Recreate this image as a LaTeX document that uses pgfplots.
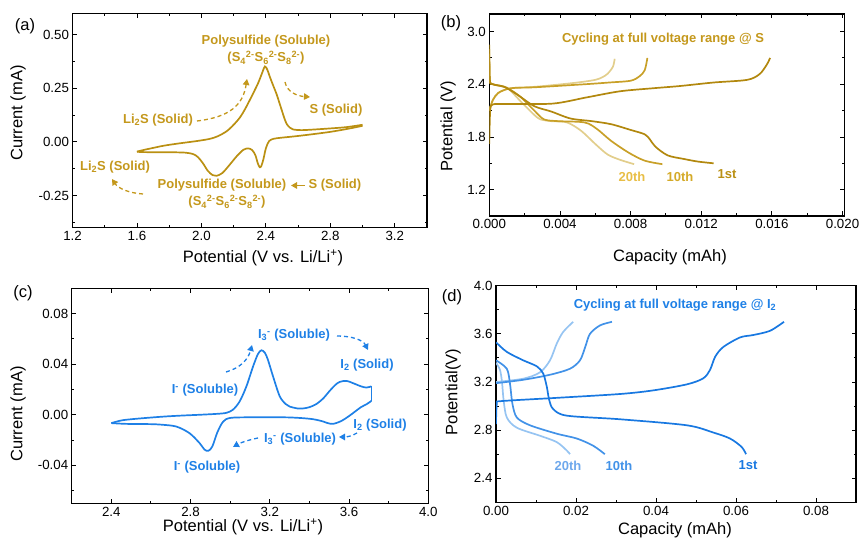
\documentclass[border=0pt]{standalone}
\usepackage{fontspec}
\setmainfont{Liberation Sans}
\usepackage{pgfplots}
\pgfplotsset{compat=1.18}
\usetikzlibrary{arrows.meta}
\definecolor{gold}{RGB}{186,144,18}
\definecolor{goldtxt}{RGB}{196,152,28}
\definecolor{goldA}{RGB}{178,136,14}
\definecolor{goldB}{RGB}{200,160,40}
\definecolor{goldC}{RGB}{226,206,140}
\definecolor{goldL1}{RGB}{186,144,20}
\definecolor{goldL10}{RGB}{212,170,40}
\definecolor{goldL20}{RGB}{232,190,70}
\definecolor{blu}{RGB}{30,128,230}
\definecolor{bluA}{RGB}{24,120,225}
\definecolor{bluB}{RGB}{66,146,232}
\definecolor{bluC}{RGB}{150,196,242}
\definecolor{bluL20}{RGB}{110,168,236}
\newcommand{\tf}{\fontsize{13.3}{15}\selectfont}
\newcommand{\lf}{\fontsize{16.5}{18}\selectfont}
\newcommand{\af}{\fontsize{13}{15}\selectfont\bfseries}
\pgfplotsset{
  panel/.style={
    scale only axis, anchor=south west,
    axis line style={line width=1.1pt},
    tick style={black,line width=0.9pt},
    major tick length=4.5pt, minor tick length=2.5pt,
    tick align=inside,
    ticklabel style={font=\tf},
    /pgf/number format/assume math mode=true,
    /pgf/number format/fixed, /pgf/number format/fixed zerofill,
    scaled ticks=false,
  },
  curve/.style={line width=1.7pt, smooth, tension=0.5, no markers},
}
\tikzset{darr/.style={line width=1.3pt, dash pattern=on 4pt off 3pt, -{Triangle[length=6pt,width=6.5pt]}}}
\begin{document}
\begin{tikzpicture}
% ---------------- (a)
\begin{axis}[panel, at={(72.5pt,318.3pt)}, width=354.5pt, height=214.4pt,
  xmin=1.2, xmax=3.4, ymin=-0.4, ymax=0.6,
  xtick={1.2,1.6,2.0,2.4,2.8,3.2}, minor xtick={1.4,1.8,2.2,2.6,3.0,3.4},
  ytick={-0.25,0,0.25,0.5}, minor ytick={-0.375,-0.125,0.125,0.375},
  xticklabel style={/pgf/number format/precision=1},
  yticklabel style={/pgf/number format/precision=2}]
\addplot[curve, gold] coordinates {(1.600,-0.045) (1.65,-0.036) (1.70,-0.028) (1.763,-0.018) (1.85,-0.008) (1.97,0.004) (2.05,0.014) (2.10,0.026) (2.157,0.050) (2.20,0.080) (2.24,0.115) (2.27,0.152) (2.30,0.195) (2.33,0.240) (2.353,0.276) (2.375,0.318) (2.394,0.352) (2.41,0.335) (2.425,0.303) (2.446,0.262) (2.467,0.222) (2.485,0.180) (2.50,0.145) (2.515,0.110) (2.53,0.083) (2.55,0.066) (2.57,0.058) (2.62,0.055) (2.70,0.058) (2.80,0.063) (2.90,0.069) (3.00,0.080)};
\addplot[curve, gold] coordinates {(3.00,0.075) (2.90,0.060) (2.80,0.047) (2.70,0.037) (2.59,0.027) (2.50,0.020) (2.45,0.015) (2.42,0.004) (2.40,-0.030) (2.385,-0.080) (2.372,-0.112) (2.362,-0.118) (2.35,-0.100) (2.335,-0.062) (2.315,-0.038) (2.29,-0.030) (2.26,-0.037) (2.22,-0.066) (2.177,-0.105) (2.13,-0.145) (2.094,-0.158) (2.07,-0.155) (2.04,-0.135) (2.01,-0.100) (1.98,-0.072) (1.95,-0.057) (1.90,-0.050) (1.80,-0.048) (1.70,-0.048) (1.62,-0.047) (1.60,-0.045)};
\end{axis}
% ---------------- (b)
\begin{axis}[panel, at={(489.3pt,330pt)}, width=355pt, height=202pt,
  xmin=0, xmax=0.0201, ymin=0.9, ymax=3.2,
  xtick={0,0.004,0.008,0.012,0.016,0.020}, minor xtick={0.002,0.006,0.010,0.014,0.018},
  ytick={1.2,1.8,2.4,3.0}, minor ytick={0.9,1.5,2.1,2.7},
  xticklabel style={/pgf/number format/precision=3},
  yticklabel style={/pgf/number format/precision=1}]
% 20th
\addplot[curve, goldC] coordinates {(0,2.10) (0.0002,2.22) (0.0005,2.30) (0.001,2.345) (0.0015,2.36) (0.0025,2.37) (0.0036,2.39) (0.005,2.42) (0.006,2.45) (0.0064,2.48) (0.0067,2.52) (0.0070,2.60) (0.0071,2.69)};
\addplot[curve, goldC] coordinates {(0,2.75) (0.00003,2.45) (0.0002,2.40) (0.001,2.36) (0.0018,2.20) (0.00255,2.05) (0.0029,2.0) (0.0035,1.98) (0.0044,1.965) (0.0052,1.87) (0.006,1.72) (0.0067,1.60) (0.0074,1.54) (0.0082,1.49)};
% 10th
\addplot[curve, goldB] coordinates {(0,2.10) (0.0002,2.22) (0.0005,2.30) (0.001,2.345) (0.0015,2.36) (0.0025,2.365) (0.0054,2.40) (0.0068,2.42) (0.0080,2.44) (0.0085,2.49) (0.0088,2.56) (0.00895,2.70)};
\addplot[curve, goldB] coordinates {(0,2.80) (0.00003,2.45) (0.0002,2.40) (0.001,2.36) (0.0018,2.25) (0.00255,2.10) (0.0031,2.0) (0.0039,1.98) (0.0054,1.965) (0.0061,1.89) (0.0069,1.755) (0.0079,1.62) (0.0088,1.53) (0.0098,1.49)};
% 1st
\addplot[curve, goldA] coordinates {(0,1.72) (0.00005,2.10) (0.0002,2.17) (0.001,2.175) (0.0036,2.18) (0.0055,2.25) (0.0074,2.32) (0.0093,2.355) (0.0108,2.38) (0.0127,2.42) (0.0146,2.45) (0.0153,2.515) (0.0157,2.62) (0.0159,2.70)};
\addplot[curve, goldA] coordinates {(0,2.85) (0.00003,2.45) (0.0002,2.40) (0.00085,2.37) (0.0016,2.28) (0.00255,2.15) (0.0035,2.09) (0.0046,2.01) (0.0058,1.98) (0.0069,1.945) (0.008,1.88) (0.0088,1.83) (0.0091,1.77) (0.0094,1.69) (0.0101,1.59) (0.011,1.55) (0.0118,1.52) (0.0127,1.50)};
\end{axis}
% ---------------- (c)
\begin{axis}[panel, at={(71.7pt,42.7pt)}, width=356.6pt, height=215pt,
  xmin=2.2, xmax=4.0, ymin=-0.07, ymax=0.1,
  xtick={2.4,2.8,3.2,3.6,4.0}, minor xtick={2.2,2.6,3.0,3.4,3.8},
  ytick={-0.04,0,0.04,0.08}, minor ytick={-0.06,-0.02,0.02,0.06},
  xticklabel style={/pgf/number format/precision=1},
  yticklabel style={/pgf/number format/precision=2}]
\addplot[curve, blu] coordinates {(2.40,-0.0066) (2.45,-0.0045) (2.509,-0.0034) (2.60,-0.0022) (2.678,-0.0013) (2.76,-0.0006) (2.846,0.0) (2.93,0.0007) (2.98,0.0015) (3.014,0.004) (3.048,0.0106) (3.082,0.0225) (3.115,0.038) (3.14,0.048) (3.158,0.051) (3.175,0.049) (3.19,0.0437) (3.216,0.0305) (3.25,0.0146) (3.28,0.0085) (3.30,0.0065) (3.34,0.0050) (3.368,0.0050) (3.40,0.0060) (3.435,0.0085) (3.47,0.013) (3.50,0.0185) (3.53,0.0235) (3.553,0.0260) (3.587,0.0268) (3.62,0.0250) (3.66,0.0225) (3.688,0.0215) (3.713,0.0225)};
\addplot[line width=1.7pt, blu] coordinates {(3.713,0.0225) (3.713,0.0110)};
\addplot[curve, blu] coordinates {(3.713,0.0110) (3.69,0.0085) (3.66,0.0060) (3.63,0.0025) (3.60,-0.0010) (3.56,-0.0050) (3.519,-0.0072) (3.49,-0.0065) (3.469,-0.0053) (3.418,-0.0035) (3.35,-0.0025) (3.267,-0.002) (3.098,-0.002) (3.00,-0.0025) (2.964,-0.0055) (2.935,-0.014) (2.91,-0.025) (2.89,-0.0285) (2.87,-0.0275) (2.846,-0.0225) (2.795,-0.0146) (2.728,-0.0093) (2.65,-0.0078) (2.594,-0.0074) (2.476,-0.0072) (2.40,-0.0066)};
\end{axis}
% ---------------- (d)
\begin{axis}[panel, at={(496pt,43.7pt)}, width=360pt, height=216.6pt,
  xmin=0, xmax=0.09, ymin=2.2, ymax=4.0,
  xtick={0,0.02,0.04,0.06,0.08}, minor xtick={0.01,0.03,0.05,0.07,0.09},
  ytick={2.4,2.8,3.2,3.6,4.0}, minor ytick={2.6,3.0,3.4,3.8},
  xticklabel style={/pgf/number format/precision=2},
  yticklabel style={/pgf/number format/precision=1}]
% 20th
\addplot[curve, bluC] coordinates {(0,3.20) (0.0068,3.227) (0.011,3.28) (0.0135,3.38) (0.0152,3.52) (0.0168,3.616) (0.0193,3.70)};
\addplot[curve, bluC] coordinates {(0,3.36) (0.0010,3.30) (0.0015,3.20) (0.0019,3.05) (0.0027,2.905) (0.0052,2.82) (0.011,2.753) (0.0152,2.70) (0.0177,2.63) (0.0185,2.60)};
% 10th
\addplot[curve, bluB] coordinates {(0,3.19) (0.0068,3.218) (0.0135,3.26) (0.0185,3.31) (0.021,3.38) (0.0223,3.49) (0.0235,3.60) (0.026,3.67) (0.029,3.70)};
\addplot[curve, bluB] coordinates {(0,3.38) (0.0027,3.31) (0.0035,3.185) (0.0041,3.02) (0.0052,2.905) (0.0085,2.84) (0.0152,2.77) (0.0202,2.73) (0.0243,2.67) (0.0272,2.60)};
% 1st
\addplot[curve, bluA] coordinates {(0,2.85) (0.0002,3.02) (0.001,3.04) (0.0152,3.068) (0.031,3.10) (0.0393,3.13) (0.0477,3.18) (0.0518,3.23) (0.0535,3.30) (0.0548,3.41) (0.0568,3.49) (0.061,3.57) (0.0643,3.59) (0.0685,3.625) (0.072,3.70)};
\addplot[curve, bluA] coordinates {(0,3.53) (0.0027,3.45) (0.0068,3.38) (0.0102,3.33) (0.0118,3.27) (0.0127,3.16) (0.0133,3.05) (0.0143,2.975) (0.0177,2.92) (0.031,2.89) (0.0477,2.84) (0.0543,2.78) (0.0585,2.73) (0.0614,2.66) (0.0625,2.60)};
\end{axis}
% ---------------- annotations (pixel coordinates, y downwards)
\begin{scope}[x=1pt,y=-1pt,yshift=546pt]
\node[font=\lf] at (25,26) {(a)};
\node[font=\lf] at (451,23) {(b)};
\node[font=\lf] at (23,293) {(c)};
\node[font=\lf] at (452,297) {(d)};
\node[font=\lf] at (263,258) {Potential (V vs. Li/Li\textsuperscript{+})};
\node[font=\lf] at (243,527) {Potential (V vs. Li/Li\textsuperscript{+})};
\node[font=\lf] at (670,257) {Capacity (mAh)};
\node[font=\lf] at (675,530) {Capacity (mAh)};
\node[font=\lf, rotate=90] at (18,113) {Current (mA)};
\node[font=\lf, rotate=90] at (18,414) {Current (mA)};
\node[font=\lf, rotate=90] at (448,126) {Potential (V)};
\node[font=\lf, rotate=90] at (453,392) {Potential(V)};
% (a)
\begin{scope}[goldtxt, font=\af]
\node at (266,41) {Polysulfide (Soluble)};
\node at (266,58) {(S\textsubscript{4}\textsuperscript{2-}S\textsubscript{6}\textsuperscript{2-}S\textsubscript{8}\textsuperscript{2-})};
\node at (158,120) {Li\textsubscript{2}S (Solid)};
\node at (336,110) {S (Solid)};
\node at (115,167) {Li\textsubscript{2}S (Solid)};
\node at (222,185) {Polysulfide (Soluble)};
\node at (227,202) {(S\textsubscript{4}\textsuperscript{2-}S\textsubscript{6}\textsuperscript{2-}S\textsubscript{8}\textsuperscript{2-})};
\node[anchor=west] at (305,185) {S (Solid)};
\end{scope}
\draw[goldtxt, darr] (197,121) .. controls (230,117) and (243,105) .. (247,79);
\draw[goldtxt, darr] (285,82) .. controls (287,92) and (297,96) .. (310,97);
\draw[goldtxt, darr] (143,194) .. controls (128,193) and (118,188) .. (112,179);
\draw[goldtxt, line width=1.3pt, -{Triangle[length=6pt,width=6.5pt]}] (305,185.5) -- (291,185.5);
% (b)
\node[goldtxt, font=\af] at (663,39) {Cycling at full voltage range @ S};
\node[goldL20, font=\af] at (632,177) {20th};
\node[goldL10, font=\af] at (680,177) {10th};
\node[goldL1, font=\af] at (727,174) {1st};
% (c)
\begin{scope}[blu, font=\af]
\node at (294,335) {I\textsubscript{3}\textsuperscript{-} (Soluble)};
\node at (367,365) {I\textsubscript{2} (Solid)};
\node at (205,390) {I\textsuperscript{-} (Soluble)};
\node at (380,425) {I\textsubscript{2} (Solid)};
\node at (300,439) {I\textsubscript{3}\textsuperscript{-} (Soluble)};
\node at (207,467) {I\textsuperscript{-} (Soluble)};
\end{scope}
\draw[blu, darr] (226,372) .. controls (240,368) and (248,360) .. (252,345);
\draw[blu, darr] (337,336) .. controls (352,336) and (363,340) .. (368,350);
\draw[blu, darr] (357,433) .. controls (352,436) and (347,437) .. (339,437);
\draw[blu, darr] (258,438) .. controls (248,440) and (240,443) .. (233,447);
% (d)
\node[blu, font=\af] at (675,305) {Cycling at full voltage range @ I\textsubscript{2}};
\node[bluL20, font=\af] at (568,466) {20th};
\node[bluB, font=\af] at (619,466) {10th};
\node[bluA, font=\af] at (748,465) {1st};
\end{scope}
\pgfresetboundingbox
\path (0,0) rectangle (860pt,546pt);
\end{tikzpicture}
\end{document}
